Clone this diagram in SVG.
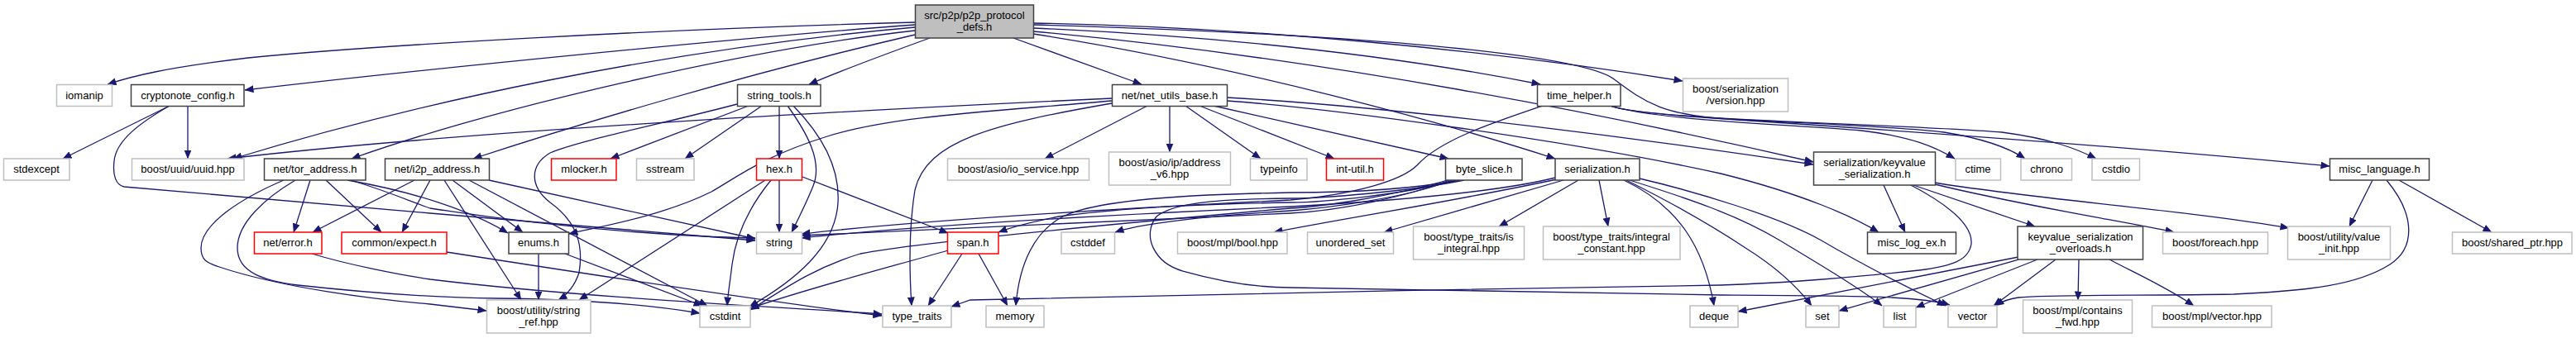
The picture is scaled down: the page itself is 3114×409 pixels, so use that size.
<svg xmlns="http://www.w3.org/2000/svg" width="3114" height="409" viewBox="0 0 3114 409">
<style>
rect{fill:#ffffff;stroke-width:1.5}
.g{stroke:#bfbfbf}
.b{stroke:#404040}
.r{stroke:#ff0000}
.m{fill:#bfbfbf;stroke:#404040}
text{font-family:"Liberation Sans",Arial,Helvetica,sans-serif;font-size:13px;fill:#000000;text-anchor:middle}
#edges path{fill:none;stroke:#191970;stroke-width:1.3;marker-end:url(#ah)}
</style>
<defs>
<marker id="ah" viewBox="0 0 11 9" refX="10.5" refY="4.5" markerWidth="11" markerHeight="9" markerUnits="userSpaceOnUse" orient="auto"><path d="M0,0 L11,4.5 L0,9 z" fill="#191970"/></marker>
</defs>
<rect x="0" y="0" width="3114" height="409" style="fill:#ffffff;stroke:none"/>
<g id="edges">
<path d="M1106,27 C800,35 450,55 300,70 C200,82 160,92 130,102"/>
<path d="M1106,30 C900,45 500,85 296,109"/>
<path d="M1106,33 C800,60 500,125 282,192"/>
<path d="M1106,37 C900,60 600,130 425,192"/>
<path d="M1106,42 C900,90 700,150 572,192"/>
<path d="M1124,46 C1080,62 1020,84 978,102"/>
<path d="M1225,46 L1380,102"/>
<path d="M1249,28 C1500,32 1800,60 2034,98"/>
<path d="M1249,30 C1600,40 1900,62 1950,95 C1990,125 2010,140 2100,145 C2400,165 2650,185 2816,201"/>
<path d="M1249,34 C1500,45 1700,70 1862,102"/>
<path d="M1249,38 C1600,70 1950,140 2192,196"/>
<path d="M1249,41 C1500,80 1750,150 1880,192"/>
<path d="M1344,119 C1000,135 550,160 275,192"/>
<path d="M1344,122 C1200,135 1080,140 1000,165 C920,190 890,215 860,232 C800,262 720,275 688,283"/>
<path d="M1344,125 C1200,150 1120,170 1106,230 C1098,280 1100,340 1102,370"/>
<path d="M1387,128 L1263,192"/>
<path d="M1414,128 L1414,184"/>
<path d="M1433,128 L1524,192"/>
<path d="M1450,128 L1613,192"/>
<path d="M1467,128 L1751,192"/>
<path d="M1483,118 C1700,130 2000,170 2192,199"/>
<path d="M1483,122 C1600,130 1900,170 2080,210 C2180,235 2240,262 2271,281"/>
<path d="M205,128 L76,192"/>
<path d="M227,128 L227,192"/>
<path d="M205,128 C170,148 140,170 138,195 C136,212 140,224 150,226 L520,258 L913,291"/>
<path d="M375,218 L355,281"/>
<path d="M394,218 L461,281"/>
<path d="M420,218 C500,232 570,255 614,282"/>
<path d="M424,218 C470,232 500,245 520,252 C700,280 850,287 913,288"/>
<path d="M357,218 C320,240 287,270 287,300 C287,330 320,340 360,345 C450,355 520,360 600,361 C700,362 780,368 846,379"/>
<path d="M343,218 C280,245 243,275 243,300 C243,315 250,318 265,323 C340,348 450,362 520,368 L588,376"/>
<path d="M501,218 L378,281"/>
<path d="M520,218 L486,281"/>
<path d="M547,218 L632,281"/>
<path d="M537,218 L630,363"/>
<path d="M567,218 L855,370"/>
<path d="M591,218 L913,289"/>
<path d="M905,128 L738,192"/>
<path d="M921,128 L828,192"/>
<path d="M942,128 L942,192"/>
<path d="M952,128 C975,160 995,195 983,225 C975,245 965,265 957,281"/>
<path d="M959,128 C1000,170 1015,210 1013,245 C1010,300 960,340 906,371"/>
<path d="M891,126 C800,150 700,170 665,185 C640,200 640,225 665,245 C700,270 705,300 700,330 C695,345 688,355 675,363"/>
<path d="M942,218 L942,281"/>
<path d="M932,218 C910,245 890,280 885,320 C882,345 880,355 879,370"/>
<path d="M925,218 L700,363"/>
<path d="M970,214 L1146,282"/>
<path d="M651,307 L651,363"/>
<path d="M683,307 L849,370"/>
<path d="M377,307 C420,320 480,332 520,338 C700,360 950,372 1066,380"/>
<path d="M540,305 C700,330 950,368 1066,382"/>
<path d="M1163,307 L1122,370"/>
<path d="M1183,307 L1218,370"/>
<path d="M1146,303 C1080,322 980,348 907,373"/>
<path d="M1760,218 C1700,235 1600,245 1560,245 C1450,247 1350,252 1280,262 C1250,268 1225,274 1207,281"/>
<path d="M1755,218 C1700,240 1600,252 1560,255 C1450,262 1380,270 1348,281"/>
<path d="M1765,218 C1700,230 1620,233 1560,233 C1400,236 1320,245 1285,262 C1250,280 1232,320 1228,370"/>
<path d="M1750,218 C1680,238 1600,250 1560,252 C1300,275 1100,295 1040,307 C980,325 940,355 907,375"/>
<path d="M1770,218 C1700,232 1600,240 1560,240 C1480,241 1420,244 1398,262 C1380,285 1395,318 1430,328 C1480,342 1520,348 1560,348 C1800,352 2000,355 2080,357 C2250,358 2320,358 2357,369"/>
<path d="M1752,218 C1700,238 1620,255 1560,258 C1300,270 1100,278 969,285"/>
<path d="M1865,128 C1800,150 1740,170 1713,200 C1695,218 1640,235 1560,242 C1300,255 1100,268 969,283"/>
<path d="M1880,215 C1800,235 1650,245 1560,250 C1300,262 1100,274 969,288"/>
<path d="M1882,217 C1750,245 1620,265 1540,281"/>
<path d="M1890,218 L1673,281"/>
<path d="M1908,218 L1812,274"/>
<path d="M1933,218 L1944,274"/>
<path d="M1963,218 C2030,250 2060,300 2072,370"/>
<path d="M1966,218 C2030,250 2080,280 2110,300 C2150,325 2175,350 2190,370"/>
<path d="M1970,218 C2040,240 2100,260 2150,290 C2200,320 2250,350 2275,370"/>
<path d="M1982,216 C2050,232 2150,262 2200,290 C2260,325 2310,350 2352,370"/>
<path d="M1946,128 C2000,145 2150,150 2250,158 C2310,165 2340,178 2363,192"/>
<path d="M1946,128 C2000,146 2250,148 2350,160 C2400,168 2430,180 2448,192"/>
<path d="M1946,128 C2000,146 2300,150 2420,160 C2480,168 2510,180 2534,192"/>
<path d="M2277,224 L2303,281"/>
<path d="M2313,224 L2460,274"/>
<path d="M2339,221 C2450,240 2650,255 2767,276"/>
<path d="M2339,223 C2450,250 2580,270 2628,281"/>
<path d="M2310,224 C2350,245 2385,270 2383,295 C2380,315 2360,322 2320,327 C2250,335 2150,343 2080,345 C1800,350 1400,356 1173,363 L1150,371"/>
<path d="M2440,311 L2101,377"/>
<path d="M2440,314 L2223,376"/>
<path d="M2463,314 L2316,372"/>
<path d="M2485,314 L2410,370"/>
<path d="M2513,314 L2512,363"/>
<path d="M2550,314 C2580,330 2620,348 2652,370"/>
<path d="M2868,218 L2840,274"/>
<path d="M2900,218 L3012,281"/>
<path d="M2885,218 C2920,260 2920,300 2889,320 C2850,345 2790,352 2700,356 C2600,358 2480,356 2440,360 C2425,362 2418,366 2412,370"/>
</g>
<g id="n_main"><rect class="m" x="1106.5" y="6" width="143" height="40"/><text x="1178" y="23">src/p2p/p2p_protocol</text><text x="1178" y="37">_defs.h</text></g>
<g id="n_iomanip"><rect class="g" x="68.5" y="102.5" width="67" height="26"/><text x="102" y="119.5">iomanip</text></g>
<g id="n_cryptonote_config"><rect class="b" x="158.5" y="102.5" width="136.5" height="26"/><text x="227" y="119.5">cryptonote_config.h</text></g>
<g id="n_string_tools"><rect class="b" x="891.5" y="102.5" width="100.5" height="26"/><text x="942" y="119.5">string_tools.h</text></g>
<g id="n_net_utils_base"><rect class="b" x="1344.5" y="102.5" width="139" height="26"/><text x="1414" y="119.5">net/net_utils_base.h</text></g>
<g id="n_time_helper"><rect class="b" x="1858.5" y="102.5" width="100.5" height="26"/><text x="1909" y="119.5">time_helper.h</text></g>
<g id="n_version"><rect class="g" x="2034.5" y="95" width="127" height="40"/><text x="2098" y="112">boost/serialization</text><text x="2098" y="126">/version.hpp</text></g>
<g id="n_stdexcept"><rect class="g" x="4.5" y="192" width="79.5" height="26"/><text x="44" y="209">stdexcept</text></g>
<g id="n_uuid"><rect class="g" x="159.5" y="192" width="135.5" height="26"/><text x="227" y="209">boost/uuid/uuid.hpp</text></g>
<g id="n_tor_address"><rect class="b" x="319.5" y="192" width="122.5" height="26"/><text x="381" y="209">net/tor_address.h</text></g>
<g id="n_i2p_address"><rect class="b" x="465.5" y="192" width="126" height="26"/><text x="528.5" y="209">net/i2p_address.h</text></g>
<g id="n_mlocker"><rect class="r" x="666.5" y="192" width="78.5" height="26"/><text x="706" y="209">mlocker.h</text></g>
<g id="n_sstream"><rect class="g" x="769.5" y="192" width="69.5" height="26"/><text x="804" y="209">sstream</text></g>
<g id="n_hex"><rect class="r" x="914.5" y="192" width="55" height="26"/><text x="942" y="209">hex.h</text></g>
<g id="n_io_service"><rect class="g" x="1145.5" y="192" width="171" height="26"/><text x="1231" y="209">boost/asio/io_service.hpp</text></g>
<g id="n_address_v6"><rect class="g" x="1340.5" y="184" width="147" height="40"/><text x="1414" y="201">boost/asio/ip/address</text><text x="1414" y="215">_v6.hpp</text></g>
<g id="n_typeinfo"><rect class="g" x="1511.5" y="192" width="68.5" height="26"/><text x="1546" y="209">typeinfo</text></g>
<g id="n_int_util"><rect class="r" x="1603.5" y="192" width="69" height="26"/><text x="1638" y="209">int-util.h</text></g>
<g id="n_byte_slice"><rect class="b" x="1747.5" y="192" width="92.5" height="26"/><text x="1794" y="209">byte_slice.h</text></g>
<g id="n_serialization"><rect class="b" x="1880" y="192" width="102" height="26"/><text x="1931" y="209">serialization.h</text></g>
<g id="n_kv_serialization"><rect class="b" x="2192.5" y="184" width="147" height="40"/><text x="2266" y="201">serialization/keyvalue</text><text x="2266" y="215">_serialization.h</text></g>
<g id="n_ctime"><rect class="g" x="2364" y="192" width="54.5" height="26"/><text x="2391" y="209">ctime</text></g>
<g id="n_chrono"><rect class="g" x="2443" y="192" width="61.5" height="26"/><text x="2474" y="209">chrono</text></g>
<g id="n_cstdio"><rect class="g" x="2529" y="192" width="57.5" height="26"/><text x="2558" y="209">cstdio</text></g>
<g id="n_misc_language"><rect class="b" x="2816.5" y="192" width="120" height="26"/><text x="2876.5" y="209">misc_language.h</text></g>
<g id="n_net_error"><rect class="r" x="307.5" y="281" width="81.5" height="26"/><text x="348" y="298">net/error.h</text></g>
<g id="n_expect"><rect class="r" x="413" y="281" width="127" height="26"/><text x="476.5" y="298">common/expect.h</text></g>
<g id="n_enums"><rect class="b" x="615" y="281" width="72.5" height="26"/><text x="651" y="298">enums.h</text></g>
<g id="n_string"><rect class="g" x="914.5" y="281" width="55" height="26"/><text x="942" y="298">string</text></g>
<g id="n_span"><rect class="r" x="1145.5" y="281" width="61.5" height="26"/><text x="1176" y="298">span.h</text></g>
<g id="n_cstddef"><rect class="g" x="1283" y="281" width="64.5" height="26"/><text x="1315" y="298">cstddef</text></g>
<g id="n_mpl_bool"><rect class="g" x="1423.5" y="281" width="132.5" height="26"/><text x="1490" y="298">boost/mpl/bool.hpp</text></g>
<g id="n_unordered_set"><rect class="g" x="1580.5" y="281" width="104" height="26"/><text x="1632.5" y="298">unordered_set</text></g>
<g id="n_is_integral"><rect class="g" x="1708.5" y="274" width="134" height="40"/><text x="1775.5" y="291">boost/type_traits/is</text><text x="1775.5" y="305">_integral.hpp</text></g>
<g id="n_integral_constant"><rect class="g" x="1865.5" y="274" width="165.5" height="40"/><text x="1948" y="291">boost/type_traits/integral</text><text x="1948" y="305">_constant.hpp</text></g>
<g id="n_misc_log_ex"><rect class="b" x="2257.5" y="281" width="107" height="26"/><text x="2311" y="298">misc_log_ex.h</text></g>
<g id="n_kv_overloads"><rect class="b" x="2439" y="274" width="151.5" height="40"/><text x="2515" y="291">keyvalue_serialization</text><text x="2515" y="305">_overloads.h</text></g>
<g id="n_foreach"><rect class="g" x="2614.5" y="281" width="127" height="26"/><text x="2678" y="298">boost/foreach.hpp</text></g>
<g id="n_value_init"><rect class="g" x="2765.5" y="274" width="124" height="40"/><text x="2827.5" y="291">boost/utility/value</text><text x="2827.5" y="305">_init.hpp</text></g>
<g id="n_shared_ptr"><rect class="g" x="2964.5" y="281" width="144.5" height="26"/><text x="3037" y="298">boost/shared_ptr.hpp</text></g>
<g id="n_string_ref"><rect class="g" x="588.5" y="363" width="125.5" height="40"/><text x="651" y="380">boost/utility/string</text><text x="651" y="394">_ref.hpp</text></g>
<g id="n_cstdint"><rect class="g" x="846" y="370" width="61" height="26"/><text x="876.5" y="387">cstdint</text></g>
<g id="n_type_traits"><rect class="g" x="1067" y="370" width="83" height="26"/><text x="1108.5" y="387">type_traits</text></g>
<g id="n_memory"><rect class="g" x="1192" y="370" width="70" height="26"/><text x="1227" y="387">memory</text></g>
<g id="n_deque"><rect class="g" x="2043" y="370" width="58" height="26"/><text x="2072" y="387">deque</text></g>
<g id="n_set"><rect class="g" x="2183" y="370" width="40" height="26"/><text x="2203" y="387">set</text></g>
<g id="n_list"><rect class="g" x="2277" y="370" width="39" height="26"/><text x="2296.5" y="387">list</text></g>
<g id="n_vector"><rect class="g" x="2355" y="370" width="59" height="26"/><text x="2384.5" y="387">vector</text></g>
<g id="n_contains_fwd"><rect class="g" x="2445.5" y="363" width="132" height="40"/><text x="2511.5" y="380">boost/mpl/contains</text><text x="2511.5" y="394">_fwd.hpp</text></g>
<g id="n_mpl_vector"><rect class="g" x="2601.5" y="370" width="144.5" height="26"/><text x="2674" y="387">boost/mpl/vector.hpp</text></g>
</svg>
